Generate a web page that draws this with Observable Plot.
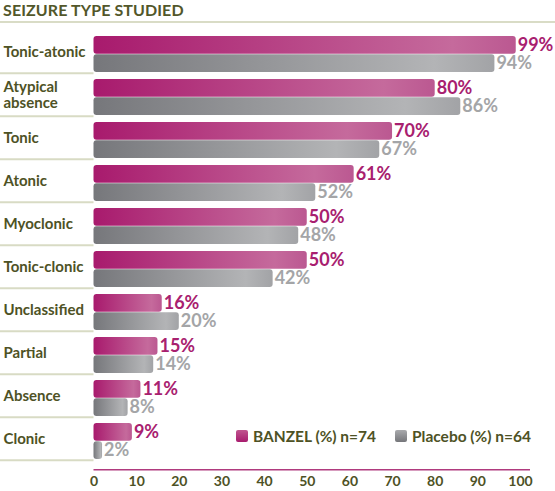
<!DOCTYPE html>
<html><head><meta charset="utf-8">
<script src="https://cdn.jsdelivr.net/npm/d3@7"></script>
<script src="https://cdn.jsdelivr.net/npm/@observablehq/plot@0.6"></script>
<style>
body{margin:0;background:#fff;font-family:Lato,"Open Sans",sans-serif;}
#wrap{position:relative;width:555px;height:491px;overflow:hidden;}
#title{box-sizing:border-box;height:23px;border-bottom:2px solid #d9dcc6;font-weight:700;font-size:16px;color:#52572a;padding:1px 0 0 3px;line-height:17px;letter-spacing:0.1px;}
#chart svg{display:block;}
.lg{position:absolute;top:427px;display:flex;align-items:center;font-size:15.5px;font-weight:700;color:#4e5225;}
.sw{width:12px;height:12px;border-radius:2px;margin-right:5px;}
</style></head><body>
<div id="wrap">
<div id="title">SEIZURE TYPE STUDIED</div>
<div id="chart"></div>
<div class="lg" style="left:236px"><div class="sw" style="background:linear-gradient(#c0558f,#a81c6e)"></div>BANZEL (%) n=74</div>
<div class="lg" style="left:395px"><div class="sw" style="background:linear-gradient(#a9aaad,#75767a)"></div>Placebo (%) n=64</div>
</div>
<script>
const categories = ["Tonic-atonic","Atypical absence","Tonic","Atonic","Myoclonic","Tonic-clonic","Unclassified","Partial","Absence","Clonic"];
const categoryLabels = ["Tonic-atonic","Atypical\nabsence","Tonic","Atonic","Myoclonic","Tonic-clonic","Unclassified","Partial","Absence","Clonic"];
const banzel = [99,80,70,61,50,50,16,15,11,9];
const placebo = [94,86,67,52,48,42,20,14,8,2];
const tickValues = [0,10,20,30,40,50,60,70,80,90,100];

const rows = categories.map((c,i)=>({cat:c, label:categoryLabels[i], b:banzel[i], p:placebo[i]}));

const W = 555, H = 468, mL = 93.5, mR = 35, mB = 19.3;
const yRange = [11, 438.7], padIn = 0.16;
const step = (yRange[1]-yRange[0])/(categories.length - padIn);
const half = step*(1-padIn)/2;
const olive = "#4e5225";

const chart = Plot.plot({
  width: W, height: H, marginLeft: mL, marginRight: mR, marginTop: 0, marginBottom: mB,
  style: {fontFamily: "Lato, 'Open Sans', sans-serif", background: "#fff"},
  x: {domain: [0,100], axis: null},
  y: {domain: categories, range: yRange, paddingInner: padIn, paddingOuter: 0, axis: null},
  marks: [
    Plot.ruleY(rows, {y: "cat", dy: half + 0.5, stroke: "#d8dbc4", strokeWidth: 2, insetLeft: -mL, insetRight: W - mR - mL}),
    Plot.barX(rows, {x: "b", y: "cat", fill: "url(#gradM)", insetBottom: half, rx: 3}),
    Plot.barX(rows, {x: "p", y: "cat", fill: "url(#gradG)", insetTop: half, rx: 3}),
    Plot.text(rows, {x: "b", y: "cat", text: d => d.b + "%", dy: -half/2, dx: 1.5, textAnchor: "start", fill: "#a8206f", fontSize: 18, fontWeight: "bold"}),
    Plot.text(rows, {x: "p", y: "cat", text: d => d.p + "%", dy: half/2, dx: 1.5, textAnchor: "start", fill: "#a4a5a7", fontSize: 18, fontWeight: "bold"}),
    Plot.text(rows, {y: "cat", text: "label", frameAnchor: "left", dx: -mL + 3, dy: -3, textAnchor: "start", fill: olive, fontSize: 15, fontWeight: "bold", lineHeight: 1.1}),
    Plot.ruleY([categories[categories.length-1]], {y: d => d, dy: half + 10, stroke: "#b03a7e", strokeWidth: 1.6, insetRight: -10}),
    Plot.text(tickValues, {x: d => d, frameAnchor: "bottom", dy: 13.5, text: d => String(d), fill: olive, fontSize: 14, fontWeight: "bold"})
  ]
});

const defs = d3.select(chart).insert("defs", ":first-child");
function grad(id, stops){
  const g = defs.append("linearGradient").attr("id", id).attr("x1","0").attr("x2","1").attr("y1","0").attr("y2","0");
  stops.forEach(([o,c]) => g.append("stop").attr("offset", o).attr("stop-color", c));
}
grad("gradM", [[0,"#a81a6d"],[0.85,"#c56a9c"],[1,"#bb5891"]]);
grad("gradG", [[0,"#76777b"],[0.85,"#b3b4b6"],[1,"#a2a3a6"]]);

document.getElementById("chart").appendChild(chart);
</script>
</body></html>
